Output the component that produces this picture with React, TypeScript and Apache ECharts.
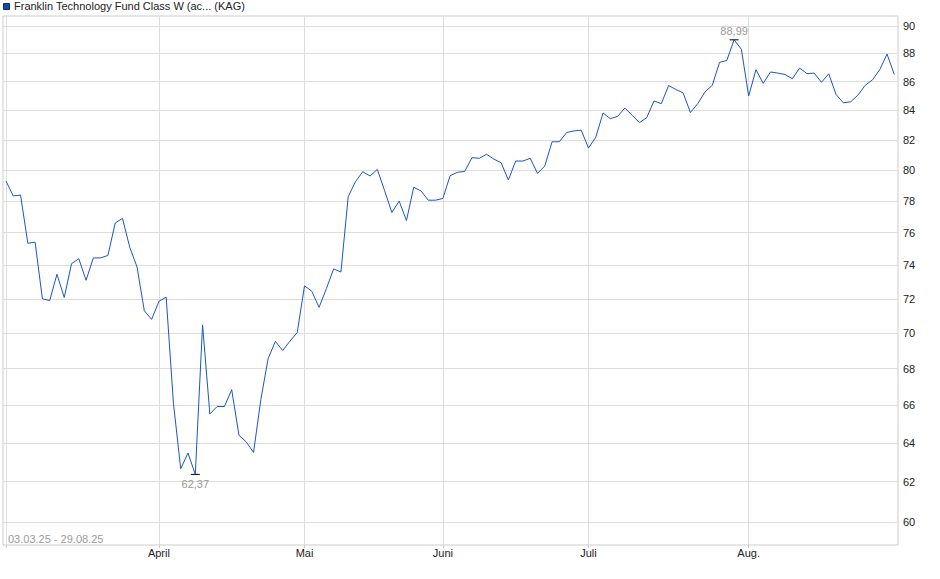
import { useEffect, useRef } from 'react'
import * as echarts from 'echarts'

const title = 'Franklin Technology Fund Class W (ac... (KAG)'
const rangeText = '03.03.25 - 29.08.25'

// trading days per month, März .. Aug.
const monthDays = [21, 20, 19, 20, 22, 21]
const monthLabels = ['März', 'April', 'Mai', 'Juni', 'Juli', 'Aug.']

const yTicks = [60, 62, 64, 66, 68, 70, 72, 74, 76, 78, 80, 82, 84, 86, 88, 90]
const yMin = 58.87
const yMax = 90.74

// daily NAV, 03.03.25 - 29.08.25
const prices = [
  79.28, 78.32, 78.38, 75.35, 75.41, 72.0, 71.9, 73.46, 72.08, 74.1,
  74.4, 73.1, 74.45, 74.45, 74.6, 76.6, 76.9, 75.1, 73.9, 71.3,
  70.8, 71.85, 72.1, 66.1, 62.66, 63.47, 62.37, 70.48, 65.53, 65.93,
  65.93, 66.84, 64.4, 64.05, 63.5, 66.3, 68.56, 69.54, 69.02, 69.55,
  70.04, 72.77, 72.45, 71.5, 72.6, 73.78, 73.6, 78.27, 79.24, 79.89,
  79.61, 80.04, 78.66, 77.27, 77.99, 76.76, 78.88, 78.64, 78.05, 78.05,
  78.16, 79.63, 79.85, 79.91, 80.81, 80.77, 81.04, 80.72, 80.48, 79.35,
  80.59, 80.59, 80.77, 79.78, 80.26, 81.87, 81.87, 82.49, 82.6, 82.65,
  81.45, 82.17, 83.82, 83.43, 83.59, 84.16, 83.66, 83.16, 83.5, 84.65,
  84.46, 85.72, 85.45, 85.21, 83.85, 84.46, 85.27, 85.74, 87.36, 87.5,
  88.99, 88.3, 84.99, 86.84, 85.88, 86.68, 86.6, 86.5, 86.2, 86.96,
  86.56, 86.6, 85.95, 86.55, 85.1, 84.52, 84.59, 85.05, 85.74, 86.12,
  86.84, 87.96, 86.5,
]

const monthStarts = monthDays.map((_, i) => monthDays.slice(0, i).reduce((a, b) => a + b, 0))

const font = 'Liberation Sans, Arial, sans-serif'
const fmt = (v: number) => v.toFixed(2).replace('.', ',')

export default function App() {
  const elRef = useRef<HTMLDivElement | null>(null)

  useEffect(() => {
    if (!elRef.current) return
    const chart = echarts.init(elRef.current, null, { renderer: 'svg' })

    const last = prices.length - 1
    const minV = Math.min(...prices)
    const maxV = Math.max(...prices)
    const minI = prices.indexOf(minV)
    const maxI = prices.indexOf(maxV)
    const yLog = yTicks.map((t) => Math.log(t))

    chart.setOption({
      animation: false,
      grid: {
        left: 3,
        right: 42,
        top: 16,
        bottom: 34,
        show: true,
        borderColor: '#cccccc',
        borderWidth: 1,
      },
      xAxis: {
        type: 'value',
        min: -0.41,
        max: last + 0.51,
        axisLine: { show: false },
        axisTick: { show: true, length: 3, customValues: monthStarts, lineStyle: { color: '#cccccc' } },
        splitLine: { show: true, lineStyle: { color: '#dddddd', width: 1 } },
        axisLabel: {
          customValues: monthStarts.slice(1),
          formatter: (v: number) => monthLabels[monthStarts.indexOf(Math.round(v))] ?? '',
          margin: 2,
          color: '#222222',
          fontSize: 11,
          fontFamily: font,
        },
      },
      yAxis: {
        type: 'value',
        position: 'right',
        min: Math.log(yMin),
        max: Math.log(yMax),
        axisLine: { show: false },
        axisTick: { show: false, customValues: yLog },
        splitLine: { show: true, lineStyle: { color: '#dddddd', width: 1 } },
        axisLabel: {
          customValues: yLog,
          formatter: (v: number) => String(Math.round(Math.exp(v))),
          margin: 5,
          color: '#222222',
          fontSize: 11,
          fontFamily: font,
        },
      },
      series: [
        {
          type: 'line',
          data: prices.map((p, i) => [i, Math.log(p)]),
          showSymbol: false,
          symbol: 'none',
          lineStyle: { color: '#1a56c4', width: 1 },
          markPoint: {
            symbol: 'rect',
            symbolSize: [9, 1],
            itemStyle: { color: '#000000' },
            label: { show: true, color: '#999999', fontSize: 11, fontFamily: font },
            data: [
              {
                coord: [minI, Math.log(minV)],
                value: minV,
                label: { position: 'bottom', distance: 4, formatter: () => fmt(minV) },
              },
              {
                coord: [maxI, Math.log(maxV)],
                value: maxV,
                label: { position: 'top', distance: 3, formatter: () => fmt(maxV) },
              },
            ],
          },
        },
      ],
      graphic: [
        {
          type: 'rect',
          left: 3,
          top: 3,
          shape: { width: 6, height: 6 },
          style: { fill: '#1448a8', stroke: '#0c2e70', lineWidth: 1 },
        },
        {
          type: 'text',
          left: 14,
          top: 0,
          style: { text: title, fill: '#222222', font: `11px ${font}` },
        },
        {
          type: 'text',
          left: 8,
          top: 533,
          style: { text: rangeText, fill: '#9a9a9a', font: `11px ${font}` },
        },
      ],
    })

    return () => {
      chart.dispose()
    }
  }, [])

  return <div ref={elRef} style={{ position: 'absolute', left: 0, top: 0, width: 940, height: 579 }} />
}
